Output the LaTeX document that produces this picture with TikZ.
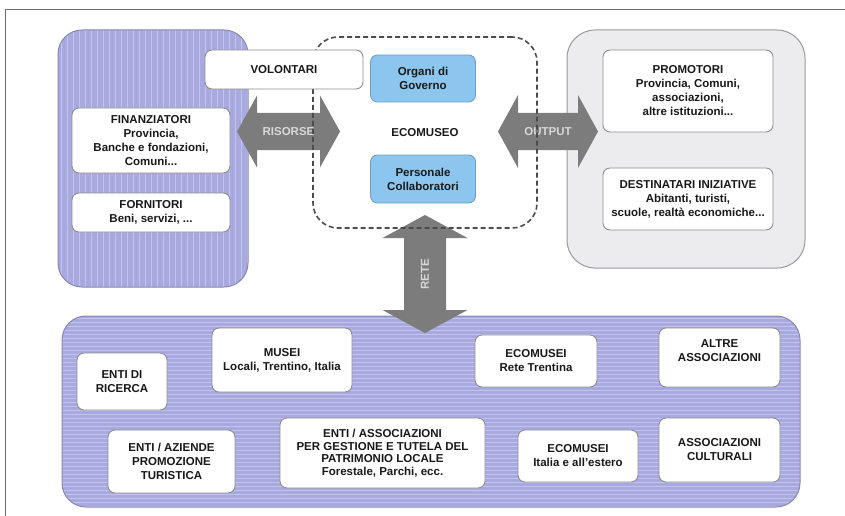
\documentclass[tikz,border=0pt]{standalone}
\usepackage{fontspec}
\setmainfont{Liberation Sans}

\definecolor{panelblue}{HTML}{A8AADF}
\definecolor{stripeblue}{HTML}{C2C4EE}
\definecolor{panelline}{HTML}{8688B0}
\definecolor{panelgray}{HTML}{ECECEF}
\definecolor{grayline}{HTML}{9A9A9A}
\definecolor{cardline}{HTML}{8C8C8C}
\definecolor{govblue}{HTML}{8CC6EE}
\definecolor{govline}{HTML}{6F9FC4}
\definecolor{arrowgray}{HTML}{7C7C7C}
\definecolor{arrowtext}{HTML}{D8D8D8}
\definecolor{frameline}{HTML}{6A6A6A}

\begin{document}
\begin{tikzpicture}[x=1pt,y=-1pt,
        every node/.style={font=\fontsize{11.5}{14}\selectfont\bfseries, text=black!90},
        vpanel/.style={draw=panelline,fill=panelblue,line width=1pt,rounded corners=24pt,inner sep=0pt,
            path picture={\foreach \s in {3,9,...,240}
                \draw[stripeblue,line width=0.8pt] ([xshift=\s pt]path picture bounding box.north west) -- ([xshift=\s pt]path picture bounding box.south west);}},
        hpanel/.style={draw=panelline,fill=panelblue,line width=1pt,rounded corners=24pt,inner sep=0pt,
            path picture={\foreach \s in {2,6,...,200}
                \draw[stripeblue,line width=0.8pt] ([yshift=-\s pt]path picture bounding box.north west) -- ([yshift=-\s pt]path picture bounding box.north east);}},
        gpanel/.style={draw=grayline,fill=panelgray,line width=1pt,rounded corners=28pt,inner sep=0pt},
        ecobox/.style={draw=black!70,line width=1.6pt,dash pattern=on 5pt off 3pt,rounded corners=25pt,inner sep=0pt},
        card/.style={draw=cardline,fill=white,line width=0.9pt,rounded corners=7pt,align=center,inner sep=1pt},
        govcard/.style={card,draw=govline,fill=govblue},
        blockarrow/.style={fill=arrowgray},
        arrowlabel/.style={text=arrowtext,inner sep=0pt}]
    \useasboundingbox (0,0) rectangle (845,516);
    \draw[frameline,line width=1pt] (5,516) -- (5,10) -- (845,10);

    % panels
    \node[vpanel,minimum width=190pt,minimum height=257pt] (support) at (153,158.5) {};
    \node[gpanel,minimum width=238pt,minimum height=238pt] (audience) at (686,149) {};
    \node[hpanel,minimum width=738pt,minimum height=191pt] (network) at (431,411.5) {};

    % arrows
    \begin{scope}[shift={(288.5,131.5)}]
        \fill[blockarrow] (-51.5,0) -- (-31.5,-36) -- (-31.5,-18.5) -- (31.5,-18.5) -- (31.5,-36) -- (51.5,0)
            -- (31.5,36) -- (31.5,18.5) -- (-31.5,18.5) -- (-31.5,36) -- cycle;
        \node[arrowlabel] (risorse) at (0,0) {RISORSE};
    \end{scope}
    \begin{scope}[shift={(548,131.5)}]
        \fill[blockarrow] (-50,0) -- (-30,-36.5) -- (-30,-18.5) -- (30,-18.5) -- (30,-36.5) -- (50,0)
            -- (30,36.5) -- (30,18.5) -- (-30,18.5) -- (-30,36.5) -- cycle;
        \node[arrowlabel] (output) at (0,0) {OUTPUT};
    \end{scope}
    \begin{scope}[shift={(425,274)}]
        \fill[blockarrow] (0,-59) -- (42.5,-36) -- (21,-36) -- (21,36) -- (42.5,36) -- (0,59)
            -- (-42.5,36) -- (-21,36) -- (-21,-36) -- (-42.5,-36) -- cycle;
        \node[arrowlabel,rotate=90] (rete) at (0,0) {RETE};
    \end{scope}

    % ecomuseo
    \node[ecobox,minimum width=224pt,minimum height=191pt] (museo) at (425,132.5) {ECOMUSEO};
    \node[govcard,minimum width=105pt,minimum height=47pt] (organi) at (423,78.5) {Organi di\\Governo};
    \node[govcard,minimum width=105pt,minimum height=48pt] (personale) at (423,179) {Personale\\Collaboratori};

    % risorse
    \node[card,minimum width=158pt,minimum height=39pt] (volontari) at (284,69.5) {VOLONTARI};
    \node[card,minimum width=158pt,minimum height=65pt] (finanz) at (151,140.5)
        {FINANZIATORI\\Provincia,\\Banche e fondazioni,\\Comuni...};
    \node[card,minimum width=158pt,minimum height=39pt] (fornitori) at (151,212.5) {FORNITORI\\Beni, servizi, ...};

    % output
    \node[card,minimum width=170pt,minimum height=82pt] (promotori) at (688,91)
        {PROMOTORI\\Provincia, Comuni,\\associazioni,\\altre istituzioni...};
    \node[card,minimum width=170pt,minimum height=62pt] (destinatari) at (688,199)
        {DESTINATARI INIZIATIVE\\Abitanti, turisti,\\scuole, realtà economiche...};

    % rete
    \node[card,minimum width=90pt,minimum height=57pt] (ricerca) at (122,381.5) {ENTI DI\\RICERCA};
    \node[card,minimum width=140pt,minimum height=64pt] (musei) at (282,360) {MUSEI\\Locali, Trentino, Italia};
    \node[card,minimum width=122pt,minimum height=52pt] (ecorete) at (536,361) {ECOMUSEI\\Rete Trentina};
    \node[card,minimum width=121pt,minimum height=59pt] (altre) at (719.5,357.5) {ALTRE\\ASSOCIAZIONI\\\mbox{}};
    \node[card,minimum width=127pt,minimum height=63pt] (turismo) at (171.5,461.5) {ENTI / AZIENDE\\PROMOZIONE\\TURISTICA};
    \node[card,minimum width=205pt,minimum height=70pt,font=\fontsize{11.5}{12.5}\selectfont\bfseries] (tutela) at (382.5,453)
        {ENTI / ASSOCIAZIONI\\PER GESTIONE  E TUTELA DEL\\PATRIMONIO LOCALE\\Forestale, Parchi, ecc.};
    \node[card,minimum width=120pt,minimum height=52pt] (ecoestero) at (578,456) {ECOMUSEI\\Italia e all'estero};
    \node[card,minimum width=121pt,minimum height=64pt] (culturali) at (719.5,450) {ASSOCIAZIONI\\CULTURALI};
\end{tikzpicture}
\end{document}
